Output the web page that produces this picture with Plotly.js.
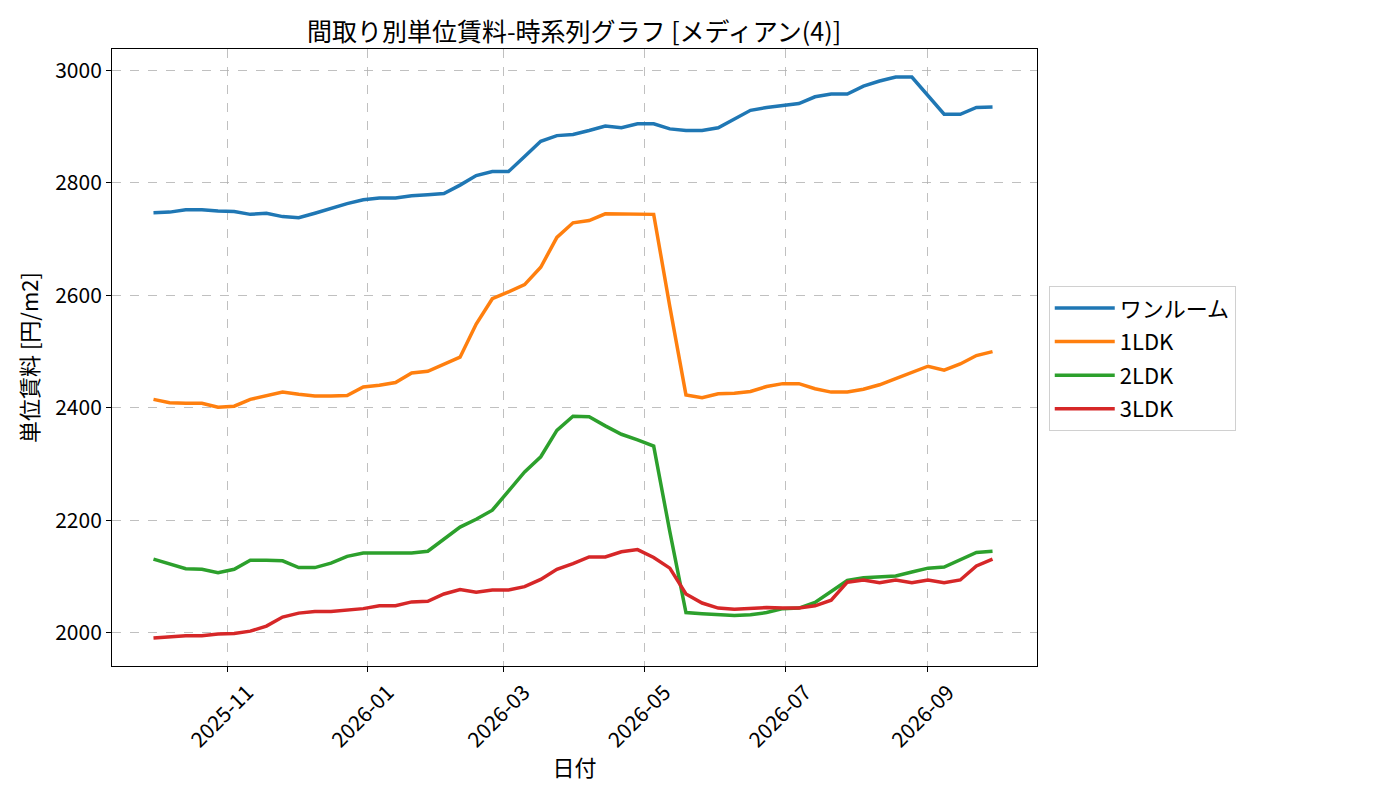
<!DOCTYPE html>
<html>
<head>
<meta charset="utf-8">
<script src="https://cdn.plot.ly/plotly-3.0.1.min.js"></script>
<style>
  body { margin: 0; background: #fff; }
  #grafico { width: 1400px; height: 800px; }
</style>
</head>
<body>
<div id="grafico"></div>
<script>
// fechas semanales
const fechas = [
    "2025-09-30", "2025-10-07", "2025-10-14", "2025-10-21", "2025-10-28",
    "2025-11-04", "2025-11-11", "2025-11-18", "2025-11-25",
    "2025-12-02", "2025-12-09", "2025-12-16", "2025-12-23", "2025-12-30",
    "2026-01-06", "2026-01-13", "2026-01-20", "2026-01-27",
    "2026-02-03", "2026-02-10", "2026-02-17", "2026-02-24",
    "2026-03-03", "2026-03-10", "2026-03-17", "2026-03-24", "2026-03-31",
    "2026-04-07", "2026-04-14", "2026-04-21", "2026-04-28",
    "2026-05-05", "2026-05-12", "2026-05-19", "2026-05-26",
    "2026-06-02", "2026-06-09", "2026-06-16", "2026-06-23", "2026-06-30",
    "2026-07-07", "2026-07-14", "2026-07-21", "2026-07-28",
    "2026-08-04", "2026-08-11", "2026-08-18", "2026-08-25",
    "2026-09-01", "2026-09-08", "2026-09-15", "2026-09-22", "2026-09-29"
];

const nombres = ["ワンルーム", "1LDK", "2LDK", "3LDK"];
const colores = ["#1f77b4", "#ff7f0e", "#2ca02c", "#d62728"];

const oneRoom = [
    2747, 2748, 2752, 2752, 2750, 2749, 2744, 2746, 2740, 2738,
    2746, 2755, 2763, 2770, 2773, 2773, 2777, 2779, 2781, 2796,
    2813, 2820, 2820, 2847, 2874, 2884, 2886, 2893, 2901, 2898,
    2905, 2905, 2896, 2893, 2893, 2898, 2914, 2929, 2934, 2937,
    2941, 2953, 2958, 2958, 2972, 2981, 2988, 2988, 2955, 2922,
    2922, 2934, 2935
];
const ldk1 = [
    2415, 2409, 2408, 2408, 2401, 2403, 2415, 2422, 2428, 2424,
    2421, 2421, 2422, 2437, 2440, 2445, 2462, 2465, 2477, 2490,
    2549, 2594, 2606, 2619, 2650, 2703, 2729, 2733, 2745, 2745,
    2745, 2744, 2580, 2423, 2418, 2425, 2426, 2429, 2438, 2443,
    2443, 2434, 2428, 2428, 2433, 2441, 2452, 2463, 2474, 2467,
    2478, 2493, 2500
];
const ldk2 = [
    2131, 2123, 2114, 2113, 2107, 2113, 2129, 2129, 2128, 2116,
    2116, 2124, 2136, 2142, 2142, 2142, 2142, 2145, 2166, 2188,
    2202, 2218, 2252, 2286, 2313, 2360, 2385, 2384, 2368, 2353,
    2343, 2332, 2180, 2036, 2034, 2032, 2031, 2032, 2036, 2043,
    2044, 2054, 2074, 2093, 2098, 2100, 2101, 2108, 2115, 2117,
    2130, 2143, 2145
];
const ldk3 = [
    1991, 1993, 1995, 1995, 1998, 1999, 2003, 2012, 2028, 2035,
    2038, 2038, 2041, 2043, 2048, 2048, 2055, 2056, 2069, 2077,
    2072, 2076, 2076, 2082, 2095, 2113, 2123, 2135, 2135, 2144,
    2148, 2134, 2115, 2069, 2053, 2044, 2042, 2044, 2045, 2044,
    2044, 2048, 2058, 2090, 2094, 2089, 2094, 2089, 2094, 2089,
    2094, 2119, 2131
];

const xTicks = ["2025-11-01", "2026-01-01", "2026-03-01", "2026-05-01", "2026-07-01", "2026-09-01"];
const xTickText = ["2025-11", "2026-01", "2026-03", "2026-05", "2026-07", "2026-09"];
const yTicks = [2000, 2200, 2400, 2600, 2800, 3000];

const fuente = "Noto Sans CJK JP, Noto Sans, sans-serif";

const series = [oneRoom, ldk1, ldk2, ldk3];
const trazas = series.map((datos, i) => ({
    x: fechas,
    y: datos,
    type: "scatter",
    mode: "lines",
    name: nombres[i],
    legendgroup: nombres[i],
    line: { color: colores[i], width: 3.5 }
}));

const layout = {
    width: 1400,
    height: 800,
    paper_bgcolor: "#fff",
    plot_bgcolor: "#fff",
    margin: { l: 112, r: 363, t: 49, b: 134 },
    font: { family: fuente, size: 21, color: "#000" },
    title: {
        text: "間取り別単位賃料-時系列グラフ [メディアン(4)]",
        font: { size: 25, color: "#000" },
        x: 0.41, xanchor: "center",
        y: 0.96, yanchor: "middle"
    },
    xaxis: {
        type: "date",
        range: ["2025-09-12", "2026-10-18 07:00"],
        tickvals: xTicks,
        ticktext: xTickText,
        tickangle: -45,
        ticklabelshift: 20,
        ticks: "outside", ticklen: 5, tickcolor: "#000",
        showline: true, mirror: true, linecolor: "#000", linewidth: 1,
        showgrid: true, gridcolor: "#b0b0b0", griddash: "dash", gridwidth: 0.8,
        zeroline: false,
        title: { text: "日付", font: { size: 22 }, standoff: 8 }
    },
    yaxis: {
        range: [1941, 3038],
        tickvals: yTicks,
        ticks: "outside", ticklen: 5, tickcolor: "#000",
        showline: true, mirror: true, linecolor: "#000", linewidth: 1,
        showgrid: true, gridcolor: "#b0b0b0", griddash: "dash", gridwidth: 0.8,
        zeroline: false,
        title: { text: "単位賃料 [円/m2]", font: { size: 22 }, standoff: 10 }
    },
    showlegend: true,
    legend: {
        x: 1.0127, xanchor: "left",
        y: 0.6156, yanchor: "top",
        bgcolor: "#fff",
        bordercolor: "#d0d0d0", borderwidth: 1,
        font: { size: 22 },
        itemwidth: 60,
        tracegroupgap: 2
    }
};

Plotly.newPlot("grafico", trazas, layout, { displayModeBar: false, staticPlot: true });
</script>
</body>
</html>
